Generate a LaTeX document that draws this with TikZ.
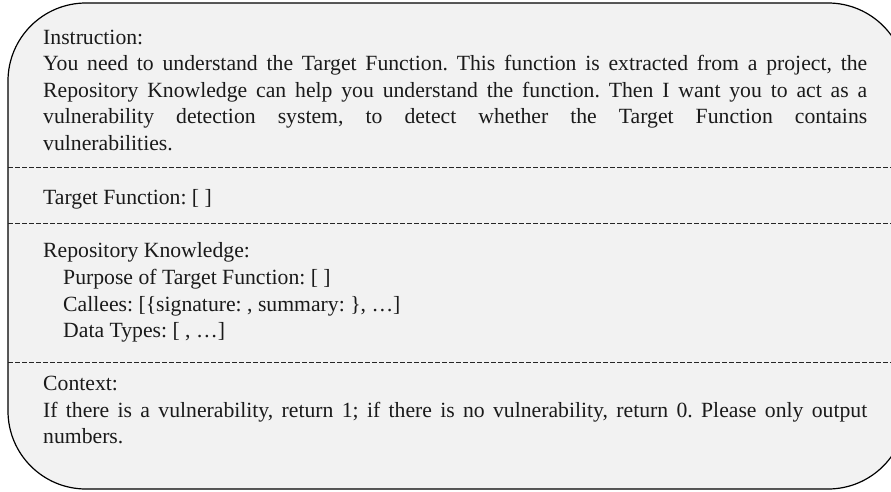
\documentclass[tikz,border=0pt]{standalone}
\usepackage{fontspec}
\setmainfont{Liberation Serif}
\frenchspacing
\definecolor{panelfill}{HTML}{F2F2F2}
\definecolor{inktext}{HTML}{1A1A1A}
\begin{document}
\begin{tikzpicture}[x=1pt,y=-1pt,
  txt/.style={anchor=base west, inner sep=0pt, text=inktext,
              font=\fontsize{21.7}{26.5}\selectfont},
  separator/.style={draw=black!85, line width=0.9pt, dash pattern=on 4.5pt off 2.5pt},
  panel/.style={draw=black, fill=panelfill, line width=1.2pt, rounded corners=78pt}]
\useasboundingbox (0,0) rectangle (891,491);
\begin{scope}
  \clip (0,0) rectangle (891,491);
  % prompt panel, running past the right edge
  \draw[panel] (8,3) rectangle (906,489);
  % section separators
  \coordinate (s1l) at (8,167);   \coordinate (s1r) at (906,167);
  \coordinate (s2l) at (8,223);   \coordinate (s2r) at (906,223);
  \coordinate (s3l) at (8,362);   \coordinate (s3r) at (906,362);
  \draw[separator] (s1l) -- (s1r);
  \draw[separator] (s2l) -- (s2r);
  \draw[separator] (s3l) -- (s3r);
\end{scope}
% instruction block
\node[txt] (ins0) at (43,44) {Instruction:};
\node[txt] (ins1) at (43,70) {\makebox[824pt][s]{You need to understand the Target Function. This function is extracted from a project, the}};
\node[txt] (ins2) at (43,97) {\makebox[824pt][s]{Repository Knowledge can help you understand the function. Then I want you to act as a}};
\node[txt] (ins3) at (43,123) {\makebox[824pt][s]{vulnerability detection system, to detect whether the Target Function contains}};
\node[txt] (ins4) at (43,150) {vulnerabilities.};
% target function
\node[txt] (tf) at (43,204) {Target Function: [ ]};
% repository knowledge
\node[txt] (rk0) at (43,257) {Repository Knowledge:};
\node[txt] (rk1) at (63,284) {Purpose of Target Function: [ ]};
\node[txt] (rk2) at (63,311) {Callees: [\{signature: , summary: \}, …]};
\node[txt] (rk3) at (63,337) {Data Types: [ , …]};
% context
\node[txt] (ctx0) at (43,390) {Context:};
\node[txt] (ctx1) at (43,417) {\makebox[824pt][s]{If there is a vulnerability, return 1; if there is no vulnerability, return 0. Please only output}};
\node[txt] (ctx2) at (43,443) {numbers.};
\end{tikzpicture}
\end{document}
